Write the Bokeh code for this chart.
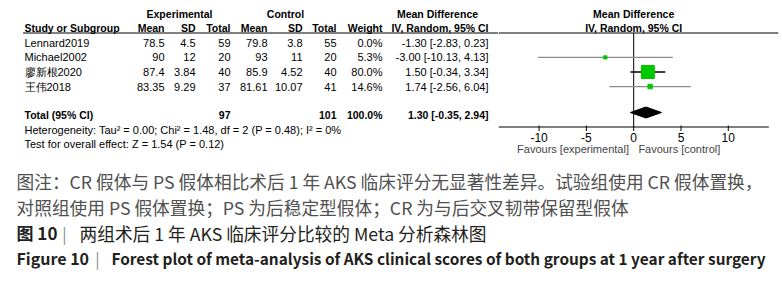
from bokeh.plotting import figure
from bokeh.layouts import column, row
from bokeh.models import Range1d
from bokeh.core.properties import value
from bokeh.embed import file_html
from bokeh.resources import INLINE

# ---------------- data ----------------
studies = ["Lennard2019", "Michael2002", "廖新根2020", "王伟2018"]
exp_mean = [78.5, 90, 87.4, 83.35]
exp_sd = [4.5, 12, 3.84, 9.29]
exp_n = [59, 20, 40, 37]
ctl_mean = [79.8, 93, 85.9, 81.61]
ctl_sd = [3.8, 11, 4.52, 10.07]
ctl_n = [55, 20, 40, 41]
weight = [0.0, 5.3, 80.0, 14.6]
md = [-1.30, -3.00, 1.50, 1.74]
ci_lo = [-2.83, -10.13, -0.34, -2.56]
ci_hi = [0.23, 4.13, 3.34, 6.04]
total_exp = 97
total_ctl = 101
total_weight = 100.0
total_md = 1.30
total_lo = -0.35
total_hi = 2.94
heterogeneity = "Heterogeneity: Tau² = 0.00; Chi² = 1.48, df = 2 (P = 0.48); I² = 0%"
overall_effect = "Test for overall effect: Z = 1.54 (P = 0.12)"
x_ticks = [-10, -5, 0, 5, 10]
x_axis_min, x_axis_max = -14.29, 14.29
favours_left = "Favours [experimental]"
favours_right = "Favours [control]"
caption_note1 = "图注：CR 假体与 PS 假体相比术后 1 年 AKS 临床评分无显著性差异。试验组使用 CR 假体置换，"
caption_note2 = "对照组使用 PS 假体置换；PS 为后稳定型假体；CR 为与后交叉韧带保留型假体"
caption_cn_no = "图 10"
caption_cn = "两组术后 1 年 AKS 临床评分比较的 Meta 分析森林图"
caption_en_no = "Figure 10"
caption_en = "Forest plot of meta-analysis of AKS clinical scores of both groups at 1 year after surgery"

# ---------------- layout constants ----------------
FONT = value("Liberation Sans")
FS = "11px"
FSB = "10.5px"
ROW0, ROW_STEP = 42.3, 14.6
row_y = [ROW0 + ROW_STEP * i for i in range(len(studies))]
TOTAL_Y = 114.5
HEAD1_Y, HEAD2_Y = 13.0, 27.0
RULE_Y = 32.5
TOP_H = 160
AXIS_Y = 126.5


def fmt(v):
    return f"{v:g}"


def bare(p):
    p.xaxis.visible = False
    p.yaxis.visible = False
    p.xgrid.visible = False
    p.ygrid.visible = False
    p.outline_line_color = None
    p.background_fill_color = "white"
    p.border_fill_color = "white"


def mkfig(w, h, xr, yr, right=0):
    p = figure(width=w, height=h, x_range=xr, y_range=yr, output_backend="svg",
               toolbar_location=None, min_border=0, min_border_left=0,
               min_border_right=right, min_border_top=0, min_border_bottom=0)
    bare(p)
    return p


def col_text(p, x, ys, texts, align="right", bold=False, color="black"):
    p.text(x=[x] * len(texts), y=ys, text=texts, text_font=FONT,
           text_font_size=FSB if bold else FS,
           text_align=align, text_baseline="middle", text_color=color,
           text_font_style="bold" if bold else "normal")


# ---------------- left table ----------------
left = mkfig(498, TOP_H, Range1d(0, 498), Range1d(TOP_H, 0))

col_text(left, 179, [HEAD1_Y], ["Experimental"], align="center", bold=True)
col_text(left, 285, [HEAD1_Y], ["Control"], align="center", bold=True)
col_text(left, 437, [HEAD1_Y], ["Mean Difference"], align="center", bold=True)
col_text(left, 24, [HEAD2_Y], ["Study or Subgroup"], align="left", bold=True)
cols_x = [164, 195, 230, 267, 302, 336, 382]
heads = ["Mean", "SD", "Total", "Mean", "SD", "Total", "Weight"]
for x, h in zip(cols_x, heads):
    col_text(left, x, [HEAD2_Y], [h], bold=True)
col_text(left, 488, [HEAD2_Y], ["IV, Random, 95% CI"], bold=True)
left.segment(x0=[22.5], y0=[RULE_Y], x1=[498], y1=[RULE_Y], line_color="black", line_width=1)

col_text(left, 24, row_y, studies, align="left")
col_text(left, cols_x[0], row_y, [fmt(v) for v in exp_mean])
col_text(left, cols_x[1], row_y, [fmt(v) for v in exp_sd])
col_text(left, cols_x[2], row_y, [fmt(v) for v in exp_n])
col_text(left, cols_x[3], row_y, [fmt(v) for v in ctl_mean])
col_text(left, cols_x[4], row_y, [fmt(v) for v in ctl_sd])
col_text(left, cols_x[5], row_y, [fmt(v) for v in ctl_n])
col_text(left, cols_x[6], row_y, [f"{w:.1f}%" for w in weight])
col_text(left, 488, row_y, [f"{m:.2f} [{l:.2f}, {h:.2f}]" for m, l, h in zip(md, ci_lo, ci_hi)])

col_text(left, 24, [TOTAL_Y], ["Total (95% CI)"], align="left", bold=True)
col_text(left, cols_x[2], [TOTAL_Y], [fmt(total_exp)], bold=True)
col_text(left, cols_x[5], [TOTAL_Y], [fmt(total_ctl)], bold=True)
col_text(left, cols_x[6], [TOTAL_Y], [f"{total_weight:.1f}%"], bold=True)
col_text(left, 488, [TOTAL_Y], [f"{total_md:.2f} [{total_lo:.2f}, {total_hi:.2f}]"], bold=True)
col_text(left, 24, [129.5], [heterogeneity], align="left")
col_text(left, 24, [143.3], [overall_effect], align="left")

# ---------------- forest plot ----------------
XL, XR = -14.29, 15.31
forest = mkfig(284, TOP_H, Range1d(XL, XR), Range1d(TOP_H, 0), right=4)

forest.text(x=[0, 0], y=[HEAD1_Y, HEAD2_Y], text=["Mean Difference", "IV, Random, 95% CI"],
            text_font=FONT, text_font_size=FSB, text_font_style="bold",
            text_align="center", text_baseline="middle")
forest.segment(x0=[XL], y0=[RULE_Y], x1=[XR], y1=[RULE_Y], line_color="black", line_width=1)
forest.segment(x0=[0], y0=[RULE_Y], x1=[0], y1=[AXIS_Y], line_color="black", line_width=1)

# x axis (line, ticks, labels) drawn through the data scale from x_ticks
forest.segment(x0=[x_axis_min], y0=[AXIS_Y], x1=[x_axis_max], y1=[AXIS_Y], line_color="black", line_width=1)
forest.segment(x0=x_ticks, y0=[AXIS_Y - 1.5] * len(x_ticks), x1=x_ticks, y1=[AXIS_Y + 4] * len(x_ticks),
               line_color="black", line_width=1)
forest.text(x=x_ticks, y=[136.5] * len(x_ticks), text=[str(t) for t in x_ticks],
            text_font=FONT, text_font_size="12px", text_align="center", text_baseline="middle",
            text_color="black")
forest.text(x=[-0.5], y=[148.5], text=[favours_left], text_font=FONT, text_font_size=FS,
            text_align="right", text_baseline="middle", text_color="#444444")
forest.text(x=[0.5], y=[148.5], text=[favours_right], text_font=FONT, text_font_size=FS,
            text_align="left", text_baseline="middle", text_color="#444444")

# study estimates (rows with zero weight are not drawn)
vis = [i for i, w in enumerate(weight) if w > 0]
forest.segment(x0=[ci_lo[i] for i in vis], y0=[row_y[i] for i in vis],
               x1=[ci_hi[i] for i in vis], y1=[row_y[i] for i in vis],
               line_color=["black" if weight[i] >= 50 else "#8c8c8c" for i in vis], line_width=1.3)
forest.scatter(x=[md[i] for i in vis], y=[row_y[i] for i in vis],
               size=[2.5 + 10.5 * weight[i] / 80.0 for i in vis], marker="square",
               fill_color="#00c800", line_color="#00c800")

# pooled diamond
dy = 5.5
cy = TOTAL_Y - 2.5
forest.patch(x=[total_lo, total_md, total_hi, total_md],
             y=[cy, cy - dy, cy, cy + dy],
             fill_color="black", line_color="black")

# ---------------- caption ----------------
cap = mkfig(782, 282 - TOP_H, Range1d(0, 782), Range1d(282, TOP_H))
CJK = value("Noto Sans CJK SC")
GREY = "#505050"
DARK = "#231f20"
cap.text(x=[16, 16], y=[180, 206], text=[caption_note1, caption_note2], text_font=CJK,
         text_font_size="17.7px", text_color=GREY, text_baseline="middle", text_align="left")
cap.text(x=[16], y=[232], text=[caption_cn_no], text_font=CJK, text_font_size="17px",
         text_font_style="bold", text_color=DARK, text_baseline="middle")
cap.text(x=[64], y=[232], text=["|"], text_font=CJK, text_font_size="16px",
         text_color="#888888", text_baseline="middle", text_align="center")
cap.text(x=[79], y=[232], text=[caption_cn], text_font=CJK, text_font_size="17.7px",
         text_color=DARK, text_baseline="middle")
cap.text(x=[16], y=[257], text=[caption_en_no], text_font=CJK, text_font_size="16px",
         text_font_style="bold", text_color=DARK, text_baseline="middle")
cap.text(x=[97], y=[257], text=["|"], text_font=CJK, text_font_size="16px",
         text_color="#888888", text_baseline="middle", text_align="center")
cap.text(x=[111], y=[257], text=[caption_en], text_font=CJK, text_font_size="15.4px",
         text_font_style="bold", text_color=DARK, text_baseline="middle")

layout = column(row(left, forest, spacing=0), cap, spacing=0)
open("out.html", "w").write(file_html(layout, INLINE))
